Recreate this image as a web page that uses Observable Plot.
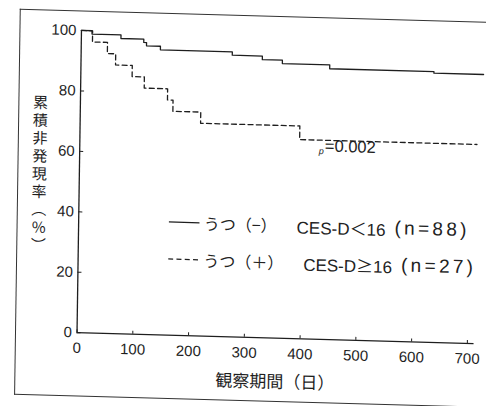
<!DOCTYPE html>
<html>
<head>
<meta charset="utf-8">
<script src="https://cdn.jsdelivr.net/npm/d3@7"></script>
<script src="https://cdn.jsdelivr.net/npm/@observablehq/plot@0.6"></script>
<style>
  html, body { margin: 0; padding: 0; background: #fff; overflow: hidden; }
  #page { position: relative; width: 486px; height: 406px; overflow: hidden; background: #fff; }
  #fig { position: absolute; left: 0; top: 0; width: 486px; height: 406px;
         transform-origin: 243px 203px; transform: matrix(1, 0.0276, -0.0147, 1, 0, 0); }
  #frame { position: absolute; left: 17px; top: 14.5px; width: 900px; height: 386px;
           border: 1.3px solid #333; border-right: none; box-sizing: border-box; }
  #chart { position: absolute; left: 0; top: 0; }
  .leg { position: absolute; left: 168.6px; height: 20px; display: flex; align-items: center;
         font-family: "Liberation Sans", "Noto Sans CJK JP", sans-serif; font-size: 17px;
         color: #222; white-space: nowrap; }
  .leg svg { flex: none; margin-right: 4.5px; }
  .leg .jp { font-family: "Noto Sans CJK JP", sans-serif; font-size: 16px; }
  .leg .cond { margin-left: 20px; }
  .leg .cond .sym { font-family: "Noto Sans CJK JP", sans-serif; }
  .leg .n { margin-left: 9px; font-size: 19px; letter-spacing: 3.3px; }
</style>
</head>
<body>
<div id="page">
  <div id="fig">
    <div id="frame"></div>
    <div id="chart"></div>
    <div id="legend"></div>
  </div>
</div>
<script>
// ---- data ----
const solidDays  = [0, 19, 71, 112, 117, 142, 271, 325, 361, 446, 633, 722];
const solidPct   = [100, 98.9, 97.7, 96.6, 95.5, 94.3, 93.2, 92.0, 90.9, 89.6, 89.1, 89.1];
const dashedDays = [0, 20, 47, 62, 92, 114, 156, 166, 216, 394, 712];
const dashedPct  = [100, 96.3, 92.6, 88.9, 85.2, 81.5, 77.8, 74.1, 70.4, 65.9, 65.9];
const xTicks = [0, 100, 200, 300, 400, 500, 600, 700];
const yTicks = [0, 20, 40, 60, 80, 100];
const xDomain = [0, 712];
const yDomain = [0, 100];
const xLabel = "観察期間（日）";
const yLabelChars = ["累", "積", "非", "発", "現", "率", "︵", "%", "︶"];
const pSymbol = "p";
const pValueText = "=0.002";
// legend pieces: group, condition (name, symbol, cutoff), sample size
const legendGroups = ["うつ（−）", "うつ（＋）"];
const legendCondName = ["CES-D", "CES-D"];
const legendCondSym = ["＜", "≥"];
const legendCondCut = ["16", "16"];
const legendN = ["(n=88)", "(n=27)"];
const legendDash = [null, "5,3.3"];

const solid = solidDays.map((d, i) => ({day: d, pct: solidPct[i]}));
const dashed = dashedDays.map((d, i) => ({day: d, pct: dashedPct[i]}));
const ink = "#1e1e1e";

const chart = Plot.plot({
  width: 486,
  height: 406,
  marginLeft: 78.5,
  marginRight: 10.5,
  marginTop: 34.5,
  marginBottom: 69.3,
  x: {domain: xDomain, label: null},
  y: {domain: yDomain, label: null},
  style: {fontFamily: '"Liberation Sans", Arial, sans-serif', fontSize: "15px", color: ink, background: "transparent", overflow: "visible"},
  marks: [
    Plot.ruleY([0], {stroke: ink, strokeWidth: 1.3}),
    Plot.ruleX([0], {stroke: ink, strokeWidth: 1.3}),
    Plot.axisX(xTicks, {tickSize: -3, tickPadding: 12.6, label: null, stroke: ink, fill: ink, fontSize: 15}),
    Plot.axisY(yTicks, {tickSize: -4, tickPadding: 9, label: null, stroke: ink, fill: ink, fontSize: 15}),
    Plot.line(solid, {x: "day", y: "pct", curve: "step-after", stroke: ink, strokeWidth: 1.3}),
    Plot.line(dashed, {x: "day", y: "pct", curve: "step-after", stroke: ink, strokeWidth: 1.3, strokeDasharray: "5,3.3"}),
    Plot.text([yLabelChars.join("\n")], {text: d => d, frameAnchor: "left", dx: -39.9, dy: -7, lineHeight: 1.187,
      textAnchor: "middle", lineAnchor: "middle", fontSize: 15, fill: ink,
      fontFamily: '"Noto Sans CJK JP", sans-serif'}),
    Plot.text([xLabel], {text: d => d, frameAnchor: "bottom", dx: 0, dy: 44.2, textAnchor: "middle", lineAnchor: "middle",
      fontSize: 17, fill: ink, fontFamily: '"Noto Sans CJK JP", sans-serif'}),
    Plot.text([pValueText], {text: d => d, frameAnchor: "top-left", dx: 245, dy: 109, textAnchor: "start", lineAnchor: "middle",
      fontSize: 16.5, fill: ink, letterSpacing: "2px"}),
    Plot.text([pSymbol], {text: d => d, frameAnchor: "top-left", dx: 239, dy: 114, textAnchor: "start", lineAnchor: "middle",
      fontSize: 9, fontStyle: "italic", fill: ink})
  ]
});
document.getElementById("chart").appendChild(chart);

// legend (inside the plot frame)
const legendTops = [214, 251];
const legend = document.getElementById("legend");
legendGroups.forEach((group, i) => {
  const row = document.createElement("div");
  row.className = "leg";
  row.style.top = legendTops[i] + "px";
  const dash = legendDash[i] ? ` stroke-dasharray="${legendDash[i]}"` : "";
  row.innerHTML =
    `<svg width="31" height="20"><line x1="0" x2="31" y1="10" y2="10" stroke="${ink}" stroke-width="1.3"${dash}/></svg>` +
    `<span class="jp">${group}</span>` +
    `<span class="cond">${legendCondName[i]}<span class="sym">${legendCondSym[i]}</span>${legendCondCut[i]}</span>` +
    `<span class="n">${legendN[i]}</span>`;
  legend.appendChild(row);
});
</script>
</body>
</html>
